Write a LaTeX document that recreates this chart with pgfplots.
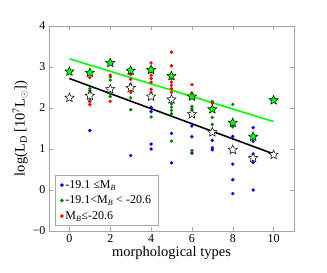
\documentclass[border=0pt]{standalone}
\usepackage{fontspec}
\setmainfont{Liberation Serif}
\usepackage{pgfplots}
\pgfplotsset{compat=1.18}
\definecolor{dgreen}{rgb}{0,0.5,0}
\definecolor{lime}{rgb}{0,1,0}
\pgfdeclareplotmark{fstar}{%
  \pgfpathmoveto{\pgfqpointpolar{90}{\pgfplotmarksize}}%
  \pgfpathlineto{\pgfqpointpolar{126}{0.46\pgfplotmarksize}}%
  \pgfpathlineto{\pgfqpointpolar{162}{\pgfplotmarksize}}%
  \pgfpathlineto{\pgfqpointpolar{198}{0.46\pgfplotmarksize}}%
  \pgfpathlineto{\pgfqpointpolar{234}{\pgfplotmarksize}}%
  \pgfpathlineto{\pgfqpointpolar{270}{0.46\pgfplotmarksize}}%
  \pgfpathlineto{\pgfqpointpolar{306}{\pgfplotmarksize}}%
  \pgfpathlineto{\pgfqpointpolar{342}{0.46\pgfplotmarksize}}%
  \pgfpathlineto{\pgfqpointpolar{18}{\pgfplotmarksize}}%
  \pgfpathlineto{\pgfqpointpolar{54}{0.46\pgfplotmarksize}}%
  \pgfpathclose
  \pgfusepathqfillstroke}
\begin{document}
\begin{tikzpicture}
\begin{axis}[
  scale only axis, width=245pt, height=205pt,
  xmin=-1, xmax=11, ymin=-1, ymax=4,
  xtick={0,2,4,6,8,10}, ytick={-1,0,1,2,3,4},
  tick align=inside, major tick length=4pt,
  axis line style={gray!70, line width=0.8pt},
  every tick/.style={gray!70},
  tick label style={font=\fontsize{12}{12}\selectfont},
  /pgf/number format/assume math mode=true,
  yticklabel={\ifdim\tick pt<0pt \textminus\pgfmathprintnumber[assume math mode=true]{\pgfmathresult}\else\pgfmathprintnumber[assume math mode=true]{\tick}\fi},
  xlabel={morphological types},
  ylabel={log(L\textsubscript{D} [10\textsuperscript{7}L\textsubscript{$\odot$}])},
  label style={font=\fontsize{14.5}{15}\selectfont},
  xlabel style={yshift=3pt},
  ylabel style={yshift=-2pt},
  legend style={at={(rel axis cs:0.025,0.024)}, anchor=south west, draw=gray!70, line width=0.6pt,
    font=\fontsize{12}{13}\selectfont, row sep=2pt, inner xsep=5pt, inner ysep=3pt},
  legend cell align=left,
  clip=false,
]
\addplot[only marks, mark=*, mark size=1.5pt, blue, mark options={draw=blue, fill=blue}] coordinates {
(1,1.45) (3,0.84) (4,2.02) (4,1.91) (4,1.12) (4,1.00)
(5,1.38) (5,0.66) (6,1.56) (6,1.30) (6,0.90)
(7,1.39) (7,1.21) (7,1.03) (7,0.98)
(8,1.31) (8,0.63) (8,0.25) (8,-0.09)
(9,1.52) (9,1.19) (9,0.88) (9,0.67) (9,0.00)
};
\addlegendentry{-19.1 ≤M\textsubscript{\textit{B}}}
\addplot[only marks, mark=*, mark size=1.5pt, dgreen, mark options={draw=dgreen, fill=dgreen}] coordinates {
(1,2.47) (1,2.42) (1,2.38) (1,2.30) (1,2.19)
(2,2.76) (2,2.68) (2,2.35) (2,2.28)
(3,2.25) (3,1.96) (4,1.78)
(5,2.19) (5,2.10) (5,2.02) (5,1.94) (5,1.86) (5,1.19)
(6,2.04) (6,1.98) (6,1.93) (6,0.96)
(7,2.16) (7,1.77) (7,1.60)
(8,2.09) (8,1.58) (8,1.54)
};
\addlegendentry{-19.1<M\textsubscript{\textit{B}} < -20.6}
\addplot[only marks, mark=*, mark size=1.5pt, red, mark options={draw=red, fill=red}] coordinates {
(1,2.74) (1,2.15) (1,2.08)
(2,3.10) (2,2.80) (2,2.16)
(3,2.82) (3,2.70) (3,2.58) (3,2.38)
(4,3.10) (4,2.98) (4,2.89) (4,2.80) (4,2.72) (4,2.63) (4,2.46) (4,2.37)
(5,3.36) (5,3.03) (5,2.81) (5,2.72) (5,2.63) (5,2.55) (5,2.47) (5,2.38)
(6,2.57) (6,2.36) (7,2.12)
};
\addlegendentry{M\textsubscript{\textit{B}}≤-20.6}
\addplot[lime, line width=1.6pt, forget plot] coordinates {(0,3.20) (10,1.67)};
\addplot[black, line width=1.6pt, forget plot] coordinates {(0,2.72) (10,0.88)};
\addplot[only marks, mark=fstar, mark size=4.8pt, forget plot, mark options={draw=black, fill=white, line width=0.5pt}] coordinates {
(0,2.25) (1,2.30) (2,2.46) (3,2.49) (4,2.28) (5,2.21) (6,1.85) (7,1.41) (8,0.98) (9,0.78) (10,0.86)
};
\addplot[only marks, mark=fstar, mark size=4.8pt, forget plot, mark options={draw=black, fill=lime, line width=0.5pt}] coordinates {
(0,2.89) (1,2.86) (2,3.10) (3,2.91) (4,2.93) (5,2.78) (6,2.28) (7,1.97) (8,1.64) (9,1.30) (10,2.19)
};
\end{axis}
\pgfresetboundingbox
\useasboundingbox (-49pt,-42pt) rectangle (278pt,231pt);
\end{tikzpicture}
\end{document}
